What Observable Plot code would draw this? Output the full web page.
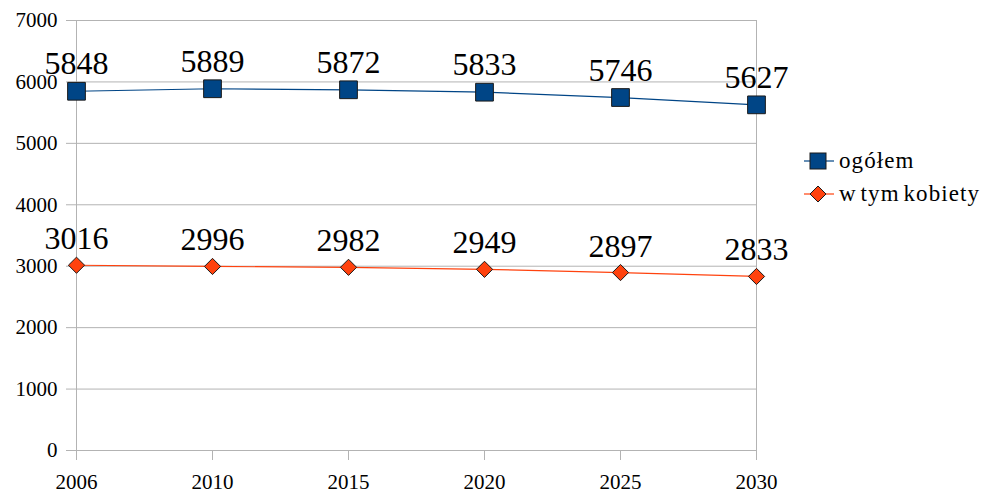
<!DOCTYPE html>
<html>
<head>
<meta charset="utf-8">
<script src="https://cdn.jsdelivr.net/npm/d3@7"></script>
<script src="https://cdn.jsdelivr.net/npm/@observablehq/plot@0.6"></script>
<style>
  body { margin: 0; background: #fff; }
  #wrap { position: relative; width: 987px; height: 495px; }
  #wrap svg text { font-family: "Liberation Serif", "Times New Roman", serif; }
  #legend { position: absolute; left: 800px; top: 139px; }
</style>
</head>
<body>
<div id="wrap"></div>
<script>
const years = ["2006", "2010", "2015", "2020", "2025", "2030"];
const ogolem = [5848, 5889, 5872, 5833, 5746, 5627];
const kobiety = [3016, 2996, 2982, 2949, 2897, 2833];
const yTicks = [0, 1000, 2000, 3000, 4000, 5000, 6000, 7000];
const seriesNames = ["ogółem", "w tym kobiety"];
const seriesColors = ["#004586", "#ff420e"];

const rowsA = years.map((y, i) => ({year: y, value: ogolem[i]}));
const rowsB = years.map((y, i) => ({year: y, value: kobiety[i]}));

const font = "'Liberation Serif', 'Times New Roman', serif";
const grid = "#b3b3b3";

const chart = Plot.plot({
  width: 987,
  height: 495,
  marginLeft: 76,
  marginRight: 231,
  marginTop: 20,
  marginBottom: 45,
  style: {fontFamily: font, background: "#fff", color: "#000"},
  x: {type: "point", domain: years, padding: 0},
  y: {domain: [0, 7000]},
  marks: [
    Plot.ruleY(yTicks, {stroke: grid, strokeWidth: 1}),
    Plot.ruleX([years[0], years[years.length - 1]], {stroke: grid, strokeWidth: 1}),
    Plot.axisY({ticks: yTicks, tickSize: 10, tickPadding: 9, stroke: grid, fontSize: 21, label: null, tickFormat: d => String(d)}),
    Plot.axisX({tickSize: 10, tickPadding: 14, stroke: grid, fontSize: 21, label: null}),
    Plot.line(rowsA, {x: "year", y: "value", stroke: seriesColors[0], strokeWidth: 1.2}),
    Plot.line(rowsB, {x: "year", y: "value", stroke: seriesColors[1], strokeWidth: 1.2}),
    Plot.dot(rowsA, {x: "year", y: "value", symbol: "square", r: 10, fill: seriesColors[0], stroke: "#1a1a1a", strokeWidth: 1}),
    Plot.dot(rowsB, {x: "year", y: "value", symbol: "diamond2", r: 7.3, fill: seriesColors[1], stroke: "#1a1a1a", strokeWidth: 1}),
    Plot.text(rowsA, {x: "year", y: "value", text: d => String(d.value), lineAnchor: "bottom", dy: -17, fontSize: 32, fill: "#000"}),
    Plot.text(rowsB, {x: "year", y: "value", text: d => String(d.value), lineAnchor: "bottom", dy: -16, fontSize: 32, fill: "#000"})
  ]
});
const wrap = document.getElementById("wrap");
wrap.appendChild(chart);

// Legend
const leg = d3.create("svg").attr("id", "legend").attr("width", 187).attr("height", 80);
seriesNames.forEach((name, i) => {
  const cy = 22 + i * 33;
  const g = leg.append("g");
  g.append("line").attr("x1", 4).attr("x2", 34).attr("y1", cy).attr("y2", cy)
    .attr("stroke", seriesColors[i]).attr("stroke-width", 1.2);
  if (i === 0) {
    g.append("rect").attr("x", 10).attr("y", cy - 8).attr("width", 16).attr("height", 16)
      .attr("fill", seriesColors[i]).attr("stroke", "#1a1a1a");
  } else {
    g.append("path").attr("d", `M18,${cy - 8}L26,${cy}L18,${cy + 8}L10,${cy}Z`)
      .attr("fill", seriesColors[i]).attr("stroke", "#1a1a1a");
  }
  g.append("text").attr("x", 39).attr("y", cy).attr("dy", "0.32em")
    .attr("font-size", 23).attr("letter-spacing", "1.1px").attr("word-spacing", "-3px")
    .attr("font-family", font).attr("fill", "#000").text(name);
});
wrap.appendChild(leg.node());
</script>
</body>
</html>
